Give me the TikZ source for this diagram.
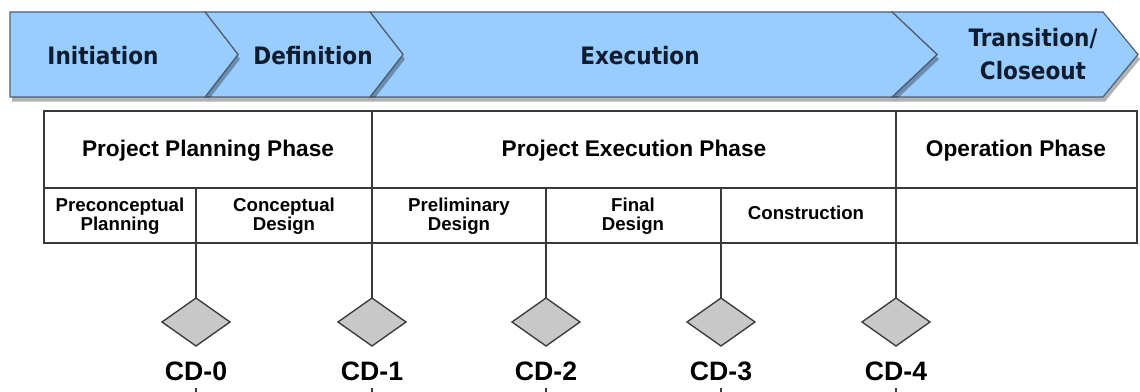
\documentclass[tikz,border=0pt]{standalone}
\usepackage{fontspec}
\setmainfont{Liberation Sans}
\newfontfamily\bandfont{DejaVu Sans Condensed}
\usetikzlibrary{shapes.geometric, shadows}

\definecolor{bandblue}{HTML}{99CCFF}
\definecolor{bandedge}{HTML}{4F5F73}
\definecolor{bandink}{HTML}{0E1C30}
\definecolor{ruleink}{HTML}{3A3A3A}
\definecolor{gatefill}{HTML}{C8C8C8}

\begin{document}
\begin{tikzpicture}[x=0.75pt, y=-0.75pt, line join=miter,
	every node/.style={inner sep=0pt, outer sep=0pt},
	phasebox/.style={fill=bandblue, draw=bandedge, line width=0.9pt, drop shadow={shadow xshift=1.5pt, shadow yshift=-3.5pt, fill=black, opacity=0.3}},
	phaselabel/.style={font=\bandfont\bfseries\fontsize{18}{25}\selectfont, text=bandink, align=center},
	gridrule/.style={draw=ruleink, line width=1.1pt},
	headcell/.style={font=\bfseries\fontsize{17}{20}\selectfont},
	subcell/.style={font=\bfseries\fontsize{14}{14.5}\selectfont, align=center},
	gate/.style={diamond, draw=ruleink, fill=gatefill, line width=1pt, minimum width=51pt, minimum height=36pt},
	gatelabel/.style={font=\bfseries\fontsize{20}{24}\selectfont}]
	
	\useasboundingbox (0,0) rectangle (1140,392);
	
	% Phase band (right to left, so each shadow falls on the next one)
	\path[phasebox] (892,12) -- (1103,12) -- (1138,54.5) -- (1103,97) -- (892,97) -- (937,54.5) -- cycle;
	\path[phasebox] (370,12) -- (892,12) -- (937,54.5) -- (892,97) -- (370,97) -- (403,54.5) -- cycle;
	\path[phasebox] (205,12) -- (370,12) -- (403,54.5) -- (370,97) -- (205,97) -- (238,54.5) -- cycle;
	\path[phasebox] (10,12) -- (205,12) -- (238,54.5) -- (205,97) -- (10,97) -- cycle;
	
	\node[phaselabel] (initiation) at (103,56) {Initiation};
	\node[phaselabel] (definition) at (313,56) {Definition};
	\node[phaselabel] (execution) at (640,56) {Execution};
	\node[phaselabel] (closeout) at (1033,54) {Transition/\\Closeout};
	
	% Phase table
	\draw[gridrule] (44,111) rectangle (1137,243);
	\draw[gridrule] (44,188) -- (1137,188);
	\draw[gridrule] (372,111) -- (372,243);
	\draw[gridrule] (896,111) -- (896,243);
	\draw[gridrule] (196,188) -- (196,243);
	\draw[gridrule] (546,188) -- (546,243);
	\draw[gridrule] (721,188) -- (721,243);
	
	\node[headcell] (planning) at (208,151) {Project Planning Phase};
	\node[headcell] (executing) at (634,151) {Project Execution Phase};
	\node[headcell] (operation) at (1016,151) {Operation Phase};
	
	\node[subcell] (preconceptual) at (120,216) {Preconceptual\\Planning};
	\node[subcell] (conceptual) at (284,216) {Conceptual\\Design};
	\node[subcell] (preliminary) at (459,216) {Preliminary\\Design};
	\node[subcell] (final) at (633,216) {Final\\Design};
	\node[subcell] (construction) at (806,213) {Construction};
	
	% Critical decisions
	\coordinate (foot0) at (196,243);
	\coordinate (foot1) at (372,243);
	\coordinate (foot2) at (546,243);
	\coordinate (foot3) at (721,243);
	\coordinate (foot4) at (896,243);
	
	\node[gate] (cd0) at (196,322) {};
	\node[gate] (cd1) at (372,322) {};
	\node[gate] (cd2) at (546,322) {};
	\node[gate] (cd3) at (721,322) {};
	\node[gate] (cd4) at (896,322) {};
	
	\draw[gridrule] (foot0) -- (cd0.north);
	\draw[gridrule] (foot1) -- (cd1.north);
	\draw[gridrule] (foot2) -- (cd2.north);
	\draw[gridrule] (foot3) -- (cd3.north);
	\draw[gridrule] (foot4) -- (cd4.north);
	
	\node[gatelabel] (label0) at (196,371) {CD-0};
	\node[gatelabel] (label1) at (372,371) {CD-1};
	\node[gatelabel] (label2) at (546,371) {CD-2};
	\node[gatelabel] (label3) at (721,371) {CD-3};
	\node[gatelabel] (label4) at (896,371) {CD-4};
	
	% Ticks below the labels
	\coordinate (tick0) at (196,388);
	\coordinate (tick1) at (372,388);
	\coordinate (tick2) at (546,388);
	\coordinate (tick3) at (721,388);
	\coordinate (tick4) at (896,388);
	\draw[gridrule, line width=0.8pt] (tick0) -- ++(0,6);
	\draw[gridrule, line width=0.8pt] (tick1) -- ++(0,6);
	\draw[gridrule, line width=0.8pt] (tick2) -- ++(0,6);
	\draw[gridrule, line width=0.8pt] (tick3) -- ++(0,6);
	\draw[gridrule, line width=0.8pt] (tick4) -- ++(0,6);
	
\end{tikzpicture}
\end{document}
